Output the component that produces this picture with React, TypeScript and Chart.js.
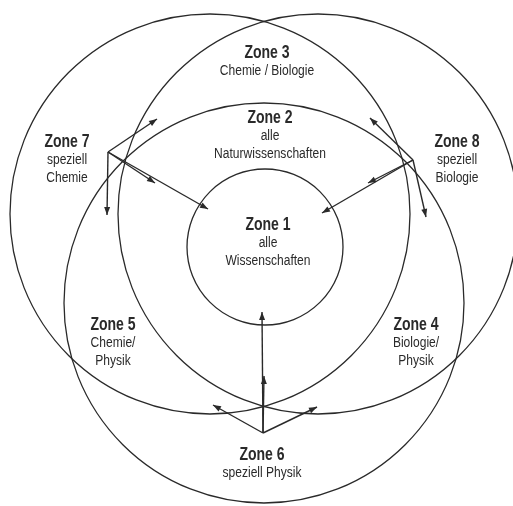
import React, { useEffect, useRef } from "react";
import { Chart, registerables } from "chart.js";

Chart.register(...registerables);

// Circles (centre x, centre y, radius) in diagram units
const circleX = [265, 210, 318, 264];
const circleY = [247, 214, 214, 303];
const circleR = [78, 200, 200, 200];

// Arrows (start -> end)
const arrowStartX = [108, 108, 108, 108, 413, 413, 413, 413, 263, 263, 263, 263];
const arrowStartY = [152, 152, 152, 152, 160, 160, 160, 160, 433, 433, 433, 433];
const arrowEndX = [157, 155, 208, 107, 370, 368, 322, 426, 262, 264, 213, 317];
const arrowEndY = [119, 183, 209, 215, 118, 183, 213, 217, 312, 376, 405, 407];

// Labels
const labelTitles = ["Zone 1", "Zone 2", "Zone 3", "Zone 4", "Zone 5", "Zone 6", "Zone 7", "Zone 8"];
const labelLines = [
  ["alle", "Wissenschaften"],
  ["alle", "Naturwissenschaften"],
  ["Chemie / Biologie"],
  ["Biologie/", "Physik"],
  ["Chemie/", "Physik"],
  ["speziell Physik"],
  ["speziell", "Chemie"],
  ["speziell", "Biologie"],
];
const labelX = [268, 270, 267, 416, 113, 262, 67, 457];
const labelY = [225, 118, 53, 325, 325, 455, 142, 142];

const INK = "#2a2a2a";

const arrowPlugin = {
  id: "arrowHeads",
  afterDatasetsDraw(chart: any) {
    const ctx = chart.ctx;
    const xs = chart.scales.x;
    const ys = chart.scales.y;
    ctx.save();
    ctx.fillStyle = INK;
    for (let i = 0; i < arrowStartX.length; i++) {
      const x0 = xs.getPixelForValue(arrowStartX[i]);
      const y0 = ys.getPixelForValue(arrowStartY[i]);
      const x1 = xs.getPixelForValue(arrowEndX[i]);
      const y1 = ys.getPixelForValue(arrowEndY[i]);
      const a = Math.atan2(y1 - y0, x1 - x0);
      const len = 8;
      const w = 3;
      ctx.beginPath();
      ctx.moveTo(x1, y1);
      ctx.lineTo(x1 - len * Math.cos(a) + w * Math.sin(a), y1 - len * Math.sin(a) - w * Math.cos(a));
      ctx.lineTo(x1 - len * Math.cos(a) - w * Math.sin(a), y1 - len * Math.sin(a) + w * Math.cos(a));
      ctx.closePath();
      ctx.fill();
    }
    ctx.restore();
  },
};

function drawNarrow(ctx: any, text: string, x: number, y: number, font: string, sx: number) {
  ctx.save();
  ctx.translate(x, y);
  ctx.scale(sx, 1);
  ctx.font = font;
  ctx.fillText(text, 0, 0);
  ctx.restore();
}

const textPlugin = {
  id: "zoneText",
  afterDatasetsDraw(chart: any) {
    const ctx = chart.ctx;
    const xs = chart.scales.x;
    const ys = chart.scales.y;
    ctx.save();
    ctx.fillStyle = INK;
    ctx.textAlign = "center";
    ctx.textBaseline = "middle";
    for (let i = 0; i < labelTitles.length; i++) {
      const x = xs.getPixelForValue(labelX[i]);
      const y = ys.getPixelForValue(labelY[i]);
      drawNarrow(ctx, labelTitles[i], x, y, "bold 18px 'Liberation Sans', Arial, sans-serif", 0.78);
      labelLines[i].forEach((t, j) =>
        drawNarrow(ctx, t, x, y + 18 * (j + 1), "14px 'Liberation Sans', Arial, sans-serif", 0.86)
      );
    }
    ctx.restore();
  },
};

export default function App() {
  const ref = useRef<HTMLCanvasElement | null>(null);
  useEffect(() => {
    if (!ref.current) return;
    const datasets: any[] = [];
    datasets.push({
      type: "scatter",
      data: circleX.map((x, i) => ({ x, y: circleY[i] })),
      pointRadius: (c: any) => {
        const s = c.chart.scales.x;
        const r = circleR[c.dataIndex];
        const cx = circleX[c.dataIndex];
        return s.getPixelForValue(cx + r) - s.getPixelForValue(cx);
      },
      pointHoverRadius: 0,
      pointBackgroundColor: "rgba(0,0,0,0)",
      pointBorderColor: INK,
      pointBorderWidth: 1.3,
      showLine: false,
    });
    for (let i = 0; i < arrowStartX.length; i++) {
      datasets.push({
        type: "line",
        data: [
          { x: arrowStartX[i], y: arrowStartY[i] },
          { x: arrowEndX[i], y: arrowEndY[i] },
        ],
        borderColor: INK,
        borderWidth: 1.4,
        pointRadius: 0,
        fill: false,
      });
    }
    const chart = new Chart(ref.current, {
      type: "scatter",
      data: { datasets },
      options: {
        animation: false,
        responsive: false,
        events: [],
        layout: { padding: 0 },
        plugins: { legend: { display: false }, tooltip: { enabled: false } },
        scales: {
          x: { type: "linear", min: 0, max: 513, display: false },
          y: { type: "linear", min: 0, max: 506, reverse: true, display: false },
        },
      },
      plugins: [arrowPlugin, textPlugin],
    } as any);
    return () => chart.destroy();
  }, []);
  return (
    <div style={{ position: "absolute", left: 0, top: 0, width: 513, height: 506, background: "#fff" }}>
      <canvas ref={ref} width={513} height={506} style={{ display: "block" }} />
    </div>
  );
}
